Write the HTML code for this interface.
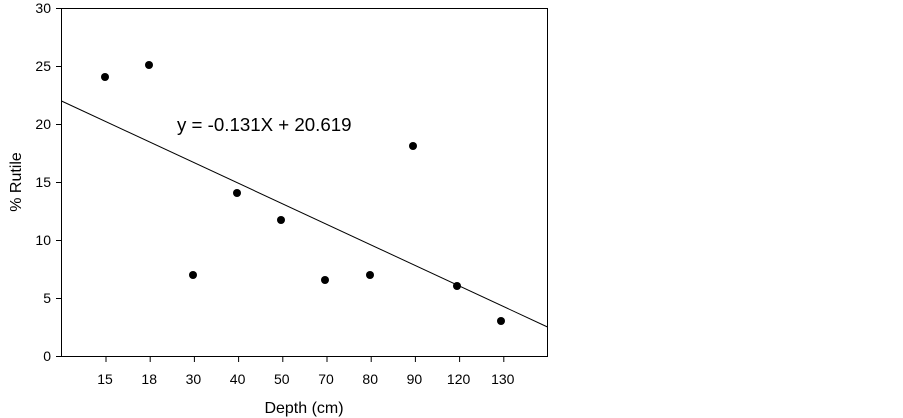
<!DOCTYPE html>
<html><head><meta charset="utf-8"><style>body{margin:0;background:#fff}svg{display:block}</style></head><body>
<svg width="903" height="418" xmlns="http://www.w3.org/2000/svg" font-family="Liberation Sans, Arial, sans-serif">
<rect width="903" height="418" fill="#fff"/>
<g stroke="#000" stroke-width="1" fill="none">
<rect x="61.5" y="8.5" width="486" height="348"/>
<line x1="56" y1="8.5" x2="61.5" y2="8.5"/>
<line x1="56" y1="66.5" x2="61.5" y2="66.5"/>
<line x1="56" y1="124.5" x2="61.5" y2="124.5"/>
<line x1="56" y1="182.5" x2="61.5" y2="182.5"/>
<line x1="56" y1="240.5" x2="61.5" y2="240.5"/>
<line x1="56" y1="298.5" x2="61.5" y2="298.5"/>
<line x1="56" y1="356.5" x2="61.5" y2="356.5"/>
<g>
<line x1="106" y1="356.5" x2="106" y2="362"/>
<line x1="150.2" y1="356.5" x2="150.2" y2="362"/>
<line x1="194.4" y1="356.5" x2="194.4" y2="362"/>
<line x1="238.6" y1="356.5" x2="238.6" y2="362"/>
<line x1="282.8" y1="356.5" x2="282.8" y2="362"/>
<line x1="327" y1="356.5" x2="327" y2="362"/>
<line x1="371.2" y1="356.5" x2="371.2" y2="362"/>
<line x1="415.4" y1="356.5" x2="415.4" y2="362"/>
<line x1="459.6" y1="356.5" x2="459.6" y2="362"/>
<line x1="503.8" y1="356.5" x2="503.8" y2="362"/>
</g>
<line x1="61.5" y1="101" x2="547.5" y2="327"/>
</g>
<g font-size="14" text-anchor="end" fill="#000">
<text x="51" y="13">30</text><text x="51" y="71">25</text><text x="51" y="129">20</text>
<text x="51" y="187">15</text><text x="51" y="245">10</text><text x="51" y="303">5</text><text x="51" y="361">0</text>
</g>
<g font-size="14" text-anchor="middle" fill="#000">
<text x="105" y="384">15</text><text x="149.2" y="384">18</text><text x="193.4" y="384">30</text>
<text x="237.6" y="384">40</text><text x="281.8" y="384">50</text><text x="326" y="384">70</text>
<text x="370.2" y="384">80</text><text x="414.4" y="384">90</text><text x="458.6" y="384">120</text>
<text x="502.8" y="384">130</text>
<text x="304" y="413" font-size="16">Depth (cm)</text>
<text transform="translate(21,182) rotate(-90)" font-size="16">% Rutile</text>
</g>
<text x="177" y="131" font-size="18.7" fill="#000">y = -0.131X + 20.619</text>
<g fill="#000">
<circle cx="105" cy="77" r="4"/><circle cx="149" cy="65" r="4"/><circle cx="193" cy="275" r="4"/>
<circle cx="237" cy="193" r="4"/><circle cx="281" cy="220" r="4"/><circle cx="325" cy="280" r="4"/>
<circle cx="370" cy="275" r="4"/><circle cx="413" cy="146" r="4"/><circle cx="457" cy="286" r="4"/>
<circle cx="501" cy="321" r="4"/>
</g>
</svg>
</body></html>
